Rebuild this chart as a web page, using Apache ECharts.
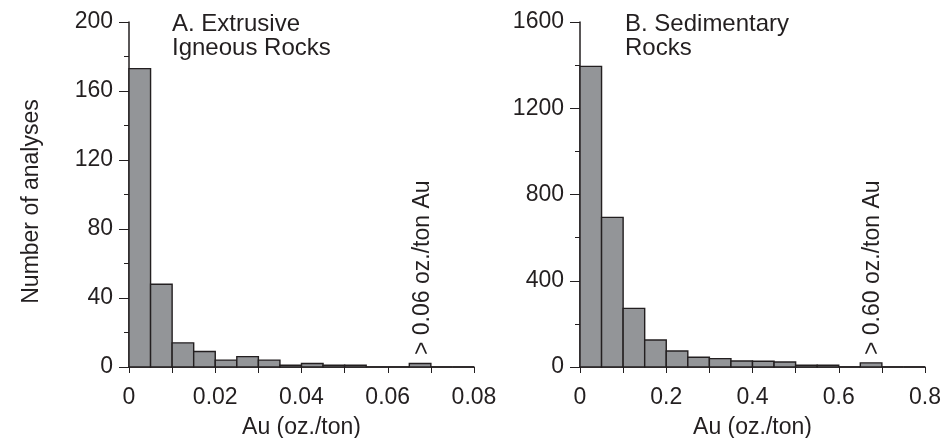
<!DOCTYPE html>
<html>
<head>
<meta charset="utf-8">
<script src="https://cdn.jsdelivr.net/npm/echarts@6/dist/echarts.min.js"></script>
<style>
  html, body { margin: 0; padding: 0; background: #fff; }
  #chart { width: 942px; height: 438px; }
</style>
</head>
<body>
<div id="chart"></div>
<script>
// bin edges (oz./ton) and counts
const binEdgesA = [0, 0.005, 0.01, 0.015, 0.02, 0.025, 0.03, 0.035, 0.04,
  0.045, 0.05, 0.055, 0.06, 0.065, 0.07, 0.075, 0.08];
const countsA = [173, 48, 14, 9, 4, 6, 4, 1, 2, 1, 1, 0, 0, 2, 0, 0];

const binEdgesB = [0, 0.05, 0.1, 0.15, 0.2, 0.25, 0.3, 0.35, 0.4,
  0.45, 0.5, 0.55, 0.6, 0.65, 0.7, 0.75, 0.8];
const countsB = [1394, 694, 272, 125, 74, 45, 39, 28, 27, 23, 8, 8, 0, 19, 0, 0];

const titleA = 'A. Extrusive\nIgneous Rocks';
const titleB = 'B. Sedimentary\nRocks';
const noteA = '> 0.06 oz./ton Au';
const noteB = '> 0.60 oz./ton Au';

const FONT = 'Liberation Sans, Arial, Helvetica, sans-serif';
const INK = '#231f20';
const BAR_FILL = '#939598';

const toBins = (edges, counts) => counts.map((c, i) => [edges[i], edges[i + 1], c]);

function renderBin(params, api) {
  const top = api.coord([api.value(0), api.value(2)]);
  const base = api.coord([api.value(1), 0]);
  return {
    type: 'rect',
    shape: { x: top[0], y: top[1], width: base[0] - top[0], height: base[1] - top[1] },
    style: { fill: BAR_FILL, stroke: INK, lineWidth: 1.4 },
  };
}

// show a label on every other tick only
const everyOther = (step) => (v) => {
  const k = Math.round(v / step);
  return k % 2 === 0 ? String(+v.toFixed(2)) : '';
};

const xAxisBase = (gridIndex, max, interval) => ({
  type: 'value',
  gridIndex,
  min: 0,
  max,
  interval,
  splitLine: { show: false },
  axisLine: { onZero: false, lineStyle: { color: INK, width: 1.5 } },
  axisTick: { length: 6, lineStyle: { color: INK, width: 1 } },
  axisLabel: {
    margin: 19, color: INK, fontFamily: FONT, fontSize: 23,
    formatter: everyOther(interval), showMinLabel: true, showMaxLabel: true,
  },
  name: 'Au (oz./ton)',
  nameLocation: 'middle',
  nameGap: 49,
  nameTextStyle: { color: INK, fontFamily: FONT, fontSize: 23 },
});

const yAxisBase = (gridIndex, max, interval) => ({
  type: 'value',
  gridIndex,
  min: 0,
  max,
  interval,
  splitLine: { show: false },
  axisLine: { show: true, lineStyle: { color: INK, width: 1.5 } },
  axisTick: { show: true, length: 10, lineStyle: { color: INK, width: 1 } },
  minorTick: { show: true, splitNumber: 2, length: 5, lineStyle: { color: INK, width: 1 } },
  axisLabel: { margin: 16, color: INK, fontFamily: FONT, fontSize: 23, formatter: (v) => String(v) },
});

const chart = echarts.init(document.getElementById('chart'), null, { renderer: 'canvas' });

chart.setOption({
  animation: false,
  backgroundColor: '#fff',
  title: [
    { text: titleA, left: 172, top: 12, padding: 0,
      textStyle: { color: INK, fontFamily: FONT, fontSize: 24, fontWeight: 'normal', lineHeight: 24 } },
    { text: titleB, left: 625, top: 12, padding: 0,
      textStyle: { color: INK, fontFamily: FONT, fontSize: 24, fontWeight: 'normal', lineHeight: 24 } },
  ],
  grid: [
    { left: 129, top: 22, width: 345, height: 345, containLabel: false, outerBoundsMode: 'none' },
    { left: 580, top: 22, width: 345, height: 345, containLabel: false, outerBoundsMode: 'none' },
  ],
  xAxis: [xAxisBase(0, 0.08, 0.01), xAxisBase(1, 0.8, 0.1)],
  yAxis: [
    Object.assign(yAxisBase(0, 200, 40), {
      name: 'Number of analyses',
      nameLocation: 'middle',
      nameRotate: 90,
      nameGap: 86,
      nameTextStyle: { color: INK, fontFamily: FONT, fontSize: 23, padding: [0, 14, 0, 0] },
    }),
    yAxisBase(1, 1600, 400),
  ],
  series: [
    { type: 'custom', xAxisIndex: 0, yAxisIndex: 0, renderItem: renderBin,
      data: toBins(binEdgesA, countsA), z: 1 },
    { type: 'custom', xAxisIndex: 1, yAxisIndex: 1, renderItem: renderBin,
      data: toBins(binEdgesB, countsB), z: 1 },
  ],
  graphic: [
    { type: 'text', x: 423, y: 355, rotation: Math.PI / 2,
      style: { text: noteA, fill: INK, font: '23px ' + FONT, textAlign: 'left', textVerticalAlign: 'middle' } },
    { type: 'text', x: 873, y: 355, rotation: Math.PI / 2,
      style: { text: noteB, fill: INK, font: '23px ' + FONT, textAlign: 'left', textVerticalAlign: 'middle' } },
  ],
});
</script>
</body>
</html>
